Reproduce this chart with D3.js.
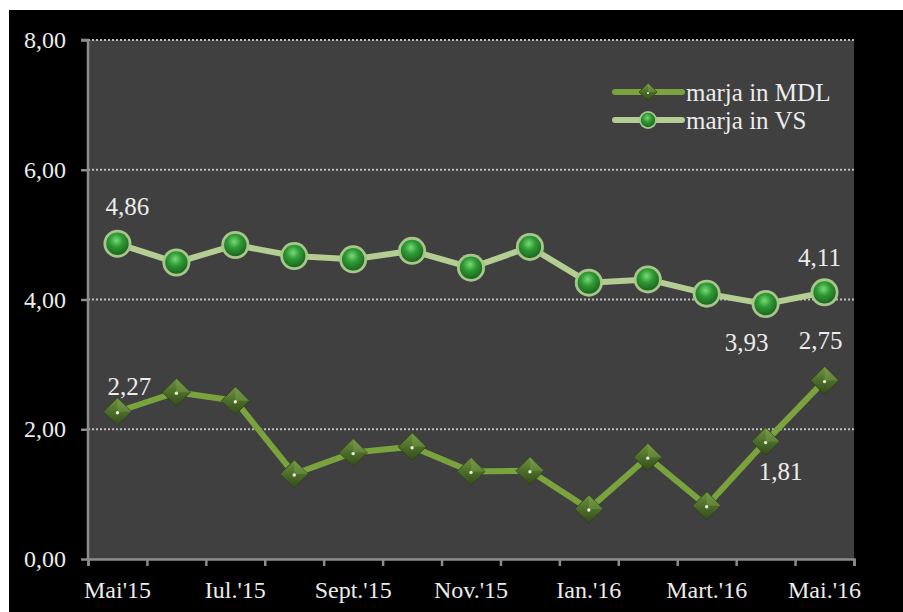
<!DOCTYPE html>
<html>
<head>
<meta charset="utf-8">
<script src="https://cdnjs.cloudflare.com/ajax/libs/d3/7.8.5/d3.min.js"></script>
<style>
  html, body { margin: 0; padding: 0; background: #fff; }
  svg { display: block; }
</style>
</head>
<body>
<svg id="chart"></svg>
<script>
// data
const months = ["Mai'15", "Iun.'15", "Iul.'15", "Aug.'15", "Sept.'15", "Oct.'15", "Nov.'15",
                "Dec.'15", "Ian.'16", "Feb.'16", "Mart.'16", "Apr.'16", "Mai.'16"];
const marjaMDL = [2.27, 2.57, 2.44, 1.31, 1.64, 1.73, 1.35, 1.36, 0.77, 1.57, 0.82, 1.81, 2.75];
const marjaVS = [4.86, 4.57, 4.84, 4.67, 4.62, 4.75, 4.49, 4.81, 4.26, 4.31, 4.09, 3.93, 4.11];
const yTicks = [0, 2, 4, 6, 8];
const seriesNames = ["marja in MDL", "marja in VS"];

const W = 903, H = 612;
const FONT = "'Liberation Serif', 'Times New Roman', 'DejaVu Serif', serif";
const svg = d3.select("#chart").attr("width", W).attr("height", H);

const defs = svg.append("defs");
const dg = defs.append("linearGradient").attr("id", "diam").attr("x1", 0).attr("y1", 0).attr("x2", 0).attr("y2", 1);
dg.append("stop").attr("offset", "0%").attr("stop-color", "#6e9340");
dg.append("stop").attr("offset", "50%").attr("stop-color", "#4d6e2a");
dg.append("stop").attr("offset", "100%").attr("stop-color", "#33491b");
const cg = defs.append("radialGradient").attr("id", "ball").attr("cx", "45%").attr("cy", "35%").attr("r", "65%");
cg.append("stop").attr("offset", "0%").attr("stop-color", "#7ad87a");
cg.append("stop").attr("offset", "45%").attr("stop-color", "#2f9a34");
cg.append("stop").attr("offset", "100%").attr("stop-color", "#1c6620");

// background: white margin, black chart area, grey plot
svg.append("rect").attr("width", W).attr("height", H).attr("fill", "#fff");
svg.append("rect").attr("x", 9).attr("y", 10).attr("width", W - 9).attr("height", H - 10).attr("fill", "#000");

const pLeft = 88, pRight = 854, pTop = 40, pBottom = 559;
svg.append("rect").attr("x", pLeft).attr("y", pTop).attr("width", pRight - pLeft).attr("height", pBottom - pTop).attr("fill", "#404040");

const x = d3.scaleBand().domain(months).range([pLeft, pRight]);
const xb = d3.scaleLinear().domain([0, months.length]).range([pLeft, pRight]);
const y = d3.scaleLinear().domain([0, 8]).range([pBottom, pTop]);
const cx = d => x(d) + x.bandwidth() / 2;

// grid
svg.append("g").selectAll("line").data(yTicks.filter(v => v > 0)).enter().append("line")
  .attr("x1", pLeft).attr("x2", pRight)
  .attr("y1", d => y(d)).attr("y2", d => y(d))
  .attr("stroke", "#bdbdbd").attr("stroke-width", 2).attr("stroke-dasharray", "2,2");

// axes
const yAxis = svg.append("g").attr("transform", `translate(${pLeft},0)`)
  .call(d3.axisLeft(y).tickValues(yTicks).tickSize(7).tickPadding(15).tickFormat(d => d3.format(".2f")(d).replace(".", ",")));
const xAxis = svg.append("g").attr("transform", `translate(0,${pBottom})`)
  .call(d3.axisBottom(xb).tickValues(d3.range(months.length + 1)).tickSize(7).tickFormat(""));
[yAxis, xAxis].forEach(g => {
  g.attr("font-family", null).attr("font-size", null);
  g.select(".domain").attr("stroke", "#8c8c8c").attr("stroke-width", 2.5);
  g.selectAll(".tick line").attr("stroke", "#8c8c8c").attr("stroke-width", 2.5);
  g.selectAll("text").attr("fill", "#ececec").style("font-size", "24px").style("font-family", FONT);
});
yAxis.select(".domain").attr("d", `M-7,${pTop}H0V${pBottom}`);

svg.append("g").selectAll("text").data(months.filter((m, i) => i % 2 === 0)).enter().append("text")
  .attr("x", d => cx(d)).attr("y", 598)
  .attr("text-anchor", "middle").attr("fill", "#ececec")
  .style("font-family", FONT).style("font-size", "24px").text(d => d);

// lines
const line = d3.line().x(d => cx(d[0])).y(d => y(d[1]));
const mdlPts = months.map((m, i) => [m, marjaMDL[i]]);
const vsPts = months.map((m, i) => [m, marjaVS[i]]);

svg.append("path").datum(vsPts).attr("d", line).attr("fill", "none")
  .attr("stroke", "#b3cd92").attr("stroke-width", 6).attr("stroke-linejoin", "round");
svg.append("path").datum(mdlPts).attr("d", line).attr("fill", "none")
  .attr("stroke", "#7aa33e").attr("stroke-width", 6).attr("stroke-linejoin", "round");

function diamond(g, px, py, s) {
  g.append("path").attr("d", `M${px},${py - s}L${px + s},${py}L${px},${py + s}L${px - s},${py}Z`)
    .attr("fill", "url(#diam)").attr("stroke", "#2c3f17").attr("stroke-width", 0.8);
  g.append("path").attr("d", `M${px},${py - s}L${px + s},${py}L${px},${py}Z`).attr("fill", "#88ac55").attr("opacity", 0.35);
  g.append("circle").attr("cx", px).attr("cy", py + 1).attr("r", s * 0.12).attr("fill", "#e8f0d8");
}
function ball(g, px, py, r) {
  g.append("circle").attr("cx", px).attr("cy", py).attr("r", r).attr("fill", "#a7c78a");
  g.append("circle").attr("cx", px).attr("cy", py).attr("r", r * 0.8).attr("fill", "url(#ball)");
}

const mk = svg.append("g");
vsPts.forEach(d => ball(mk, cx(d[0]), y(d[1]), 14));
mdlPts.forEach(d => diamond(mk, cx(d[0]), y(d[1]), 14));

// data labels: [series, index, dx, dy]
const labelSpots = [
  [marjaVS, 0, 10, -37], [marjaVS, 11, -19, 38], [marjaVS, 12, -5, -35],
  [marjaMDL, 0, 12, -25], [marjaMDL, 11, 15, 30], [marjaMDL, 12, -4, -40]
];
svg.append("g").selectAll("text").data(labelSpots).enter().append("text")
  .attr("x", d => cx(months[d[1]]) + d[2])
  .attr("y", d => y(d[0][d[1]]) + d[3])
  .attr("text-anchor", "middle").attr("dominant-baseline", "central").attr("fill", "#ececec")
  .style("font-family", FONT).style("font-size", "25px")
  .text(d => d3.format(".2f")(d[0][d[1]]).replace(".", ","));

// legend
const leg = svg.append("g");
seriesNames.forEach((name, i) => {
  const ly = 92 + i * 28;
  leg.append("line").attr("x1", 615).attr("x2", 682).attr("y1", ly).attr("y2", ly)
    .attr("stroke", i === 0 ? "#7aa33e" : "#b3cd92").attr("stroke-width", 6).attr("stroke-linecap", "round");
  if (i === 0) diamond(leg, 648, ly, 9); else ball(leg, 648, ly, 9);
  leg.append("text").attr("x", 686).attr("y", ly).attr("dominant-baseline", "central").attr("fill", "#ececec")
    .style("font-family", FONT).style("font-size", "25px").text(name);
});
</script>
</body>
</html>
